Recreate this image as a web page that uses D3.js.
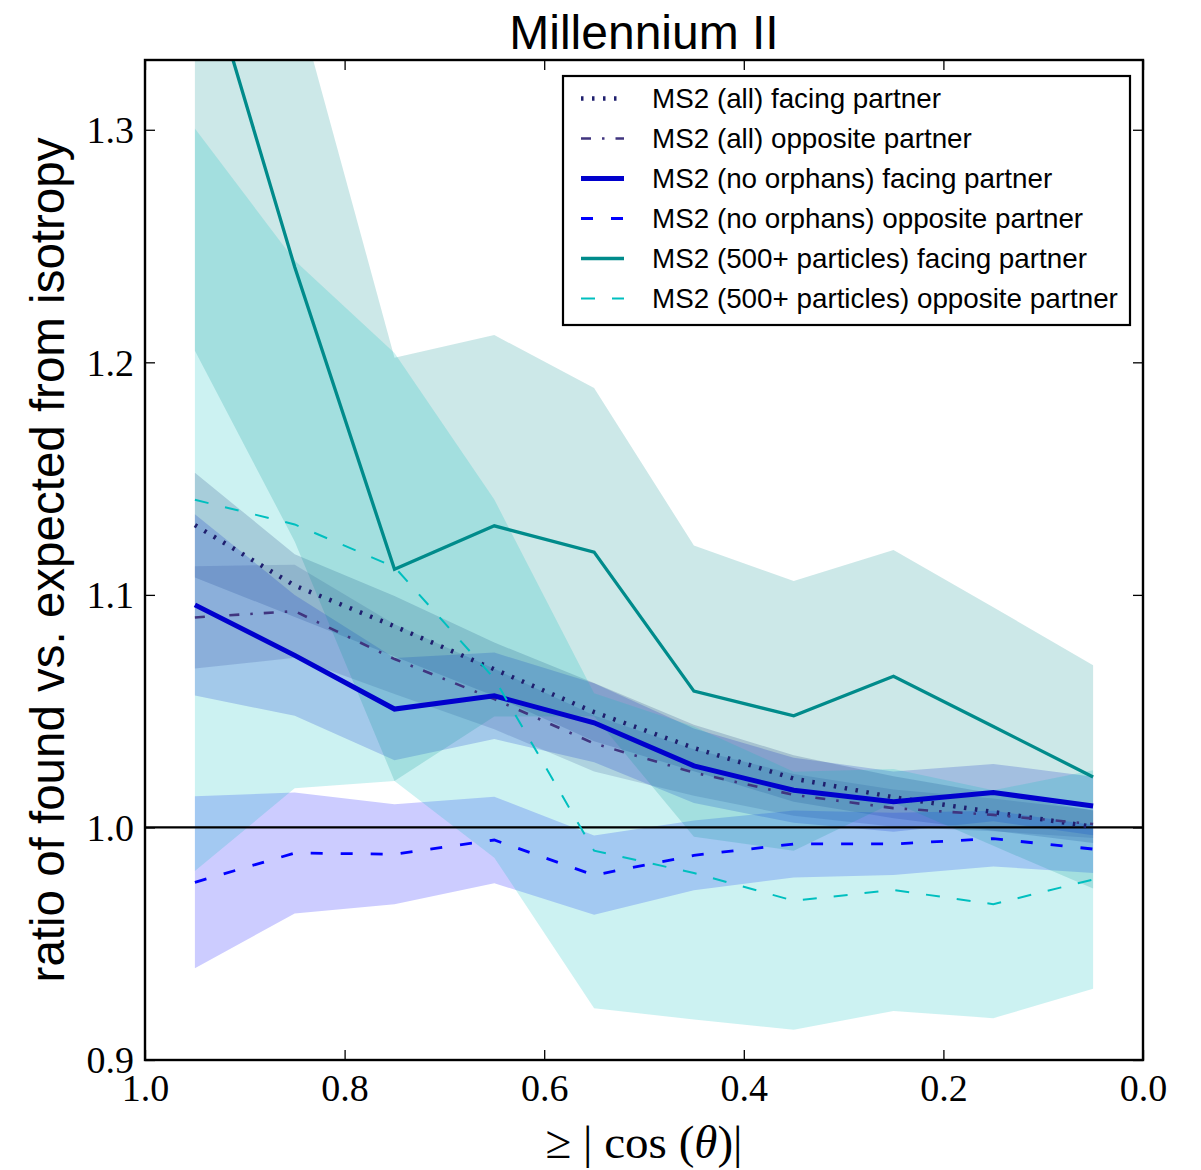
<!DOCTYPE html>
<html>
<head>
<meta charset="utf-8">
<script src="https://cdn.jsdelivr.net/npm/d3@7"></script>
<style>
  html, body { margin: 0; padding: 0; background: #fff; }
  svg { display: block; }
</style>
</head>
<body>
<svg id="chart" width="1201" height="1170"></svg>
<script>
// ---------------- data ----------------
const xs = [0.95, 0.85, 0.75, 0.65, 0.55, 0.45, 0.35, 0.25, 0.15, 0.05];

const allFacing      = [1.130, 1.104, 1.0865, 1.068, 1.0496, 1.0342, 1.021, 1.013, 1.0066, 1.0003];
const allFacingErr   = [0.0225, 0.0135, 0.013, 0.0115, 0.0125, 0.010, 0.010, 0.009, 0.008, 0.007];
const allOpp         = [1.0903, 1.093, 1.0724, 1.0552, 1.0361, 1.0236, 1.014, 1.0083, 1.0054, 1.0015];
const allOppErr      = [0.022, 0.020, 0.015, 0.013, 0.012, 0.010, 0.009, 0.008, 0.007, 0.006];
const nofFacing      = [1.0957, 1.074, 1.0509, 1.0566, 1.0450, 1.0265, 1.016, 1.0111, 1.015, 1.0092];
const nofFacingErr   = [0.039, 0.026, 0.022, 0.0186, 0.017, 0.016, 0.014, 0.013, 0.0123, 0.0126];
const nofOpp         = [0.9764, 0.989, 0.9885, 0.9946, 0.9795, 0.988, 0.9929, 0.9929, 0.9952, 0.9907];
const nofOppErr      = [0.037, 0.026, 0.0215, 0.0186, 0.017, 0.015, 0.0144, 0.0134, 0.012, 0.0103];
const p500Facing     = [1.385, 1.241, 1.111, 1.1297, 1.1184, 1.0586, 1.048, 1.065, 1.0434, 1.0217];
const p500FacingErr  = [0.18, 0.118, 0.091, 0.082, 0.0706, 0.0626, 0.058, 0.0543, 0.0513, 0.048];
const p500Opp        = [1.1409, 1.1303, 1.112, 1.064, 0.990, 0.9804, 0.9685, 0.9731, 0.967, 0.9776];
const p500OppErr     = [0.1596, 0.1135, 0.092, 0.077, 0.0677, 0.063, 0.0555, 0.052, 0.049, 0.047];

const seriesNames = [
  "MS2 (all) facing partner",
  "MS2 (all) opposite partner",
  "MS2 (no orphans) facing partner",
  "MS2 (no orphans) opposite partner",
  "MS2 (500+ particles) facing partner",
  "MS2 (500+ particles) opposite partner"
];

const xTicks = [1.0, 0.8, 0.6, 0.4, 0.2, 0.0];
const yTicks = [0.9, 1.0, 1.1, 1.2, 1.3];

// ---------------- styles ----------------
const styles = [
  { color: "#1f1f6e", width: 4.5, dash: "2.5,8.5",    band: "#191970" },
  { color: "#40357f", width: 2.6, dash: "10,11,2.5,11", band: "#483d8b" },
  { color: "#0000cd", width: 5,   dash: null,         band: "#0000cd" },
  { color: "#0000ff", width: 2.8, dash: "12,18",      band: "#0000ff" },
  { color: "#008b8b", width: 3.3, dash: null,         band: "#008b8b" },
  { color: "#00bfbf", width: 2,   dash: "14,17",      band: "#00bfbf" }
];

const series = [
  { name: seriesNames[0], mean: allFacing,  err: allFacingErr },
  { name: seriesNames[1], mean: allOpp,     err: allOppErr },
  { name: seriesNames[2], mean: nofFacing,  err: nofFacingErr },
  { name: seriesNames[3], mean: nofOpp,     err: nofOppErr },
  { name: seriesNames[4], mean: p500Facing, err: p500FacingErr },
  { name: seriesNames[5], mean: p500Opp,    err: p500OppErr }
];

// ---------------- layout ----------------
const L = 145, R = 1143, T = 60, B = 1060;
const svg = d3.select("#chart");
const x = d3.scaleLinear().domain([1, 0]).range([L, R]);
const y = d3.scaleLinear().domain([0.9, 1.33]).range([B, T]);

svg.append("defs").append("clipPath").attr("id", "plotclip")
  .append("rect").attr("x", L).attr("y", T).attr("width", R - L).attr("height", B - T);

const plot = svg.append("g").attr("clip-path", "url(#plotclip)");

// bands
const area = d3.area()
  .x(d => x(d.x)).y0(d => y(d.lo)).y1(d => y(d.hi));
series.forEach((s, i) => {
  const pts = xs.map((xv, k) => ({ x: xv, lo: s.mean[k] - s.err[k], hi: s.mean[k] + s.err[k] }));
  plot.append("path").datum(pts)
    .attr("d", area)
    .attr("fill", styles[i].band)
    .attr("fill-opacity", 0.2)
    .attr("stroke", "none");
});

// reference line at 1.0
plot.append("line")
  .attr("x1", L).attr("x2", R).attr("y1", y(1.0)).attr("y2", y(1.0))
  .attr("stroke", "#000").attr("stroke-width", 2.2);

// lines
const line = d3.line().x(d => x(d.x)).y(d => y(d.v));
series.forEach((s, i) => {
  const pts = xs.map((xv, k) => ({ x: xv, v: s.mean[k] }));
  const p = plot.append("path").datum(pts)
    .attr("d", line)
    .attr("fill", "none")
    .attr("stroke", styles[i].color)
    .attr("stroke-width", styles[i].width)
    .attr("stroke-linejoin", "miter");
  if (styles[i].dash) p.attr("stroke-dasharray", styles[i].dash);
});

// frame
svg.append("rect").attr("x", L).attr("y", T).attr("width", R - L).attr("height", B - T)
  .attr("fill", "none").attr("stroke", "#000").attr("stroke-width", 2.4);

// ticks (inward on all sides)
const tickLen = 10;
const axB = d3.axisBottom(x).tickValues(xTicks).tickSize(-tickLen).tickPadding(14)
  .tickFormat(d3.format(".1f"));
const axT = d3.axisTop(x).tickValues(xTicks).tickSize(-tickLen).tickFormat("");
const axL = d3.axisLeft(y).tickValues(yTicks).tickSize(-tickLen).tickPadding(11)
  .tickFormat(d3.format(".1f"));
const axR = d3.axisRight(y).tickValues(yTicks).tickSize(-tickLen).tickFormat("");

function styleAxis(g) {
  g.select(".domain").remove();
  g.selectAll(".tick line").attr("stroke", "#000").attr("stroke-width", 1.3);
  g.selectAll(".tick text")
    .attr("fill", "#000")
    .style("font-family", "'Liberation Serif', 'DejaVu Serif', serif")
    .style("font-size", "38px");
}
svg.append("g").attr("transform", `translate(0,${B})`).call(axB).call(styleAxis)
  .selectAll(".tick text").attr("dy", "0.71em");
svg.append("g").attr("transform", `translate(0,${T})`).call(axT).call(styleAxis);
svg.append("g").attr("transform", `translate(${L},0)`).call(axL).call(styleAxis)
  .selectAll(".tick text").attr("dy", "0.34em");
svg.append("g").attr("transform", `translate(${R},0)`).call(axR).call(styleAxis);

// title
svg.append("text")
  .attr("x", (L + R) / 2).attr("y", 49)
  .attr("text-anchor", "middle")
  .style("font-family", "'Liberation Sans', Arial, sans-serif")
  .style("font-size", "48px")
  .attr("fill", "#000")
  .text("Millennium II");

// y label
svg.append("text")
  .attr("transform", `translate(64,${(T + B) / 2}) rotate(-90)`)
  .attr("text-anchor", "middle")
  .style("font-family", "'Liberation Sans', Arial, sans-serif")
  .style("font-size", "47.5px")
  .attr("fill", "#000")
  .text("ratio of found vs. expected from isotropy");

// x label
const xl = svg.append("text")
  .attr("x", (L + R) / 2).attr("y", 1158)
  .attr("text-anchor", "middle")
  .style("font-family", "'Liberation Serif', 'DejaVu Serif', serif")
  .style("font-size", "47px")
  .attr("fill", "#000");
xl.append("tspan").text("\u2265 | cos (");
xl.append("tspan").style("font-style", "italic").text("\u03b8");
xl.append("tspan").text(")|");

// legend
const lg = svg.append("g");
const lgX = 563, lgY = 76, lgW = 567, lgH = 249;
lg.append("rect").attr("x", lgX).attr("y", lgY).attr("width", lgW).attr("height", lgH)
  .attr("fill", "#fff").attr("stroke", "#000").attr("stroke-width", 2.2);
series.forEach((s, i) => {
  const cy = 98.5 + i * 40;
  const l = lg.append("line")
    .attr("x1", 581).attr("x2", 624).attr("y1", cy).attr("y2", cy)
    .attr("stroke", styles[i].color).attr("stroke-width", styles[i].width);
  if (styles[i].dash) l.attr("stroke-dasharray", styles[i].dash);
  lg.append("text")
    .attr("x", 652).attr("y", cy + 9.5)
    .style("font-family", "'Liberation Sans', Arial, sans-serif")
    .style("font-size", "27.8px")
    .attr("fill", "#000")
    .text(s.name);
});
</script>
</body>
</html>
